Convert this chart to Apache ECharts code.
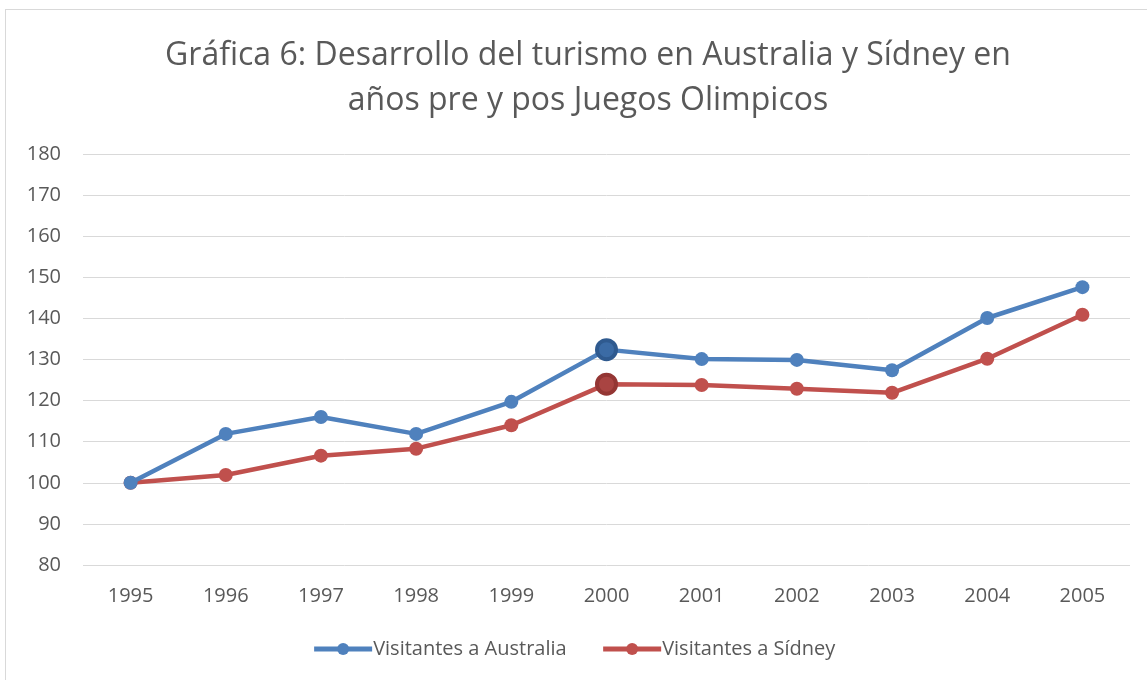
<!DOCTYPE html>
<html><head><meta charset="utf-8">
<script src="https://cdn.jsdelivr.net/npm/echarts@6/dist/echarts.min.js"></script>
<style>html,body{margin:0;padding:0;background:#fff}#c{width:1147px;height:680px}
#frame{position:absolute;left:5px;top:9px;width:1160px;height:700px;border:1px solid #d9d9d9;pointer-events:none}</style>
</head><body><div id="c"></div><div id="frame"></div>
<script>
const years = ['1995','1996','1997','1998','1999','2000','2001','2002','2003','2004','2005'];
const australia = [100, 111.9, 116, 111.9, 119.7, 132.4, 130.1, 129.9, 127.4, 140.1, 147.6];
const sidney = [100, 101.9, 106.6, 108.3, 114, 124, 123.8, 122.9, 121.9, 130.2, 140.9];
const highlightIndex = 5;
const txt = '#595959';
function mk(vals, dark){
  return vals.map((v,i)=> i===highlightIndex ? {value:v, symbolSize:19, itemStyle:{color:dark.c, borderColor:dark.b, borderWidth:4}} : v);
}
const chart = echarts.init(document.getElementById('c'));
chart.setOption({
  animation:false,
  title:{text:'Gráfica 6: Desarrollo del turismo en Australia y Sídney en\naños pre y pos Juegos Olimpicos', left:583, textAlign:'center', top:28,
    textStyle:{fontFamily:'Open Sans', fontWeight:'normal', fontSize:32, color:txt, lineHeight:45}},
  grid:{left:83, right:17, top:154, bottom:115},
  legend:{bottom:16, left:'center', itemWidth:58, itemHeight:15, itemGap:34,
    lineStyle:{width:5},
    textStyle:{fontFamily:'Open Sans', fontSize:20, color:txt, padding:[0,0,0,-4]},
    data:['Visitantes a Australia','Visitantes a Sídney']},
  xAxis:{type:'category', data:years, boundaryGap:true, axisLine:{show:false}, axisTick:{show:false},
    axisLabel:{fontFamily:'Open Sans', fontSize:20, color:txt, margin:21}},
  yAxis:{type:'value', min:80, max:180, interval:10, axisLine:{show:false}, axisTick:{show:false},
    splitLine:{lineStyle:{color:'#d9d9d9', width:1}},
    axisLabel:{fontFamily:'Open Sans', fontSize:20, color:txt, margin:22}},
  series:[
    {name:'Visitantes a Australia', type:'line', data:mk(australia,{c:'#3b6ba5',b:'#2f5a8f'}), symbol:'circle', symbolSize:14,
     lineStyle:{color:'#4f81bd', width:4.5}, itemStyle:{color:'#4f81bd'}, z:3},
    {name:'Visitantes a Sídney', type:'line', data:mk(sidney,{c:'#a94442',b:'#943634'}), symbol:'circle', symbolSize:14,
     lineStyle:{color:'#c0504d', width:4.5}, itemStyle:{color:'#c0504d'}, z:2}
  ]
});
</script></body></html>
